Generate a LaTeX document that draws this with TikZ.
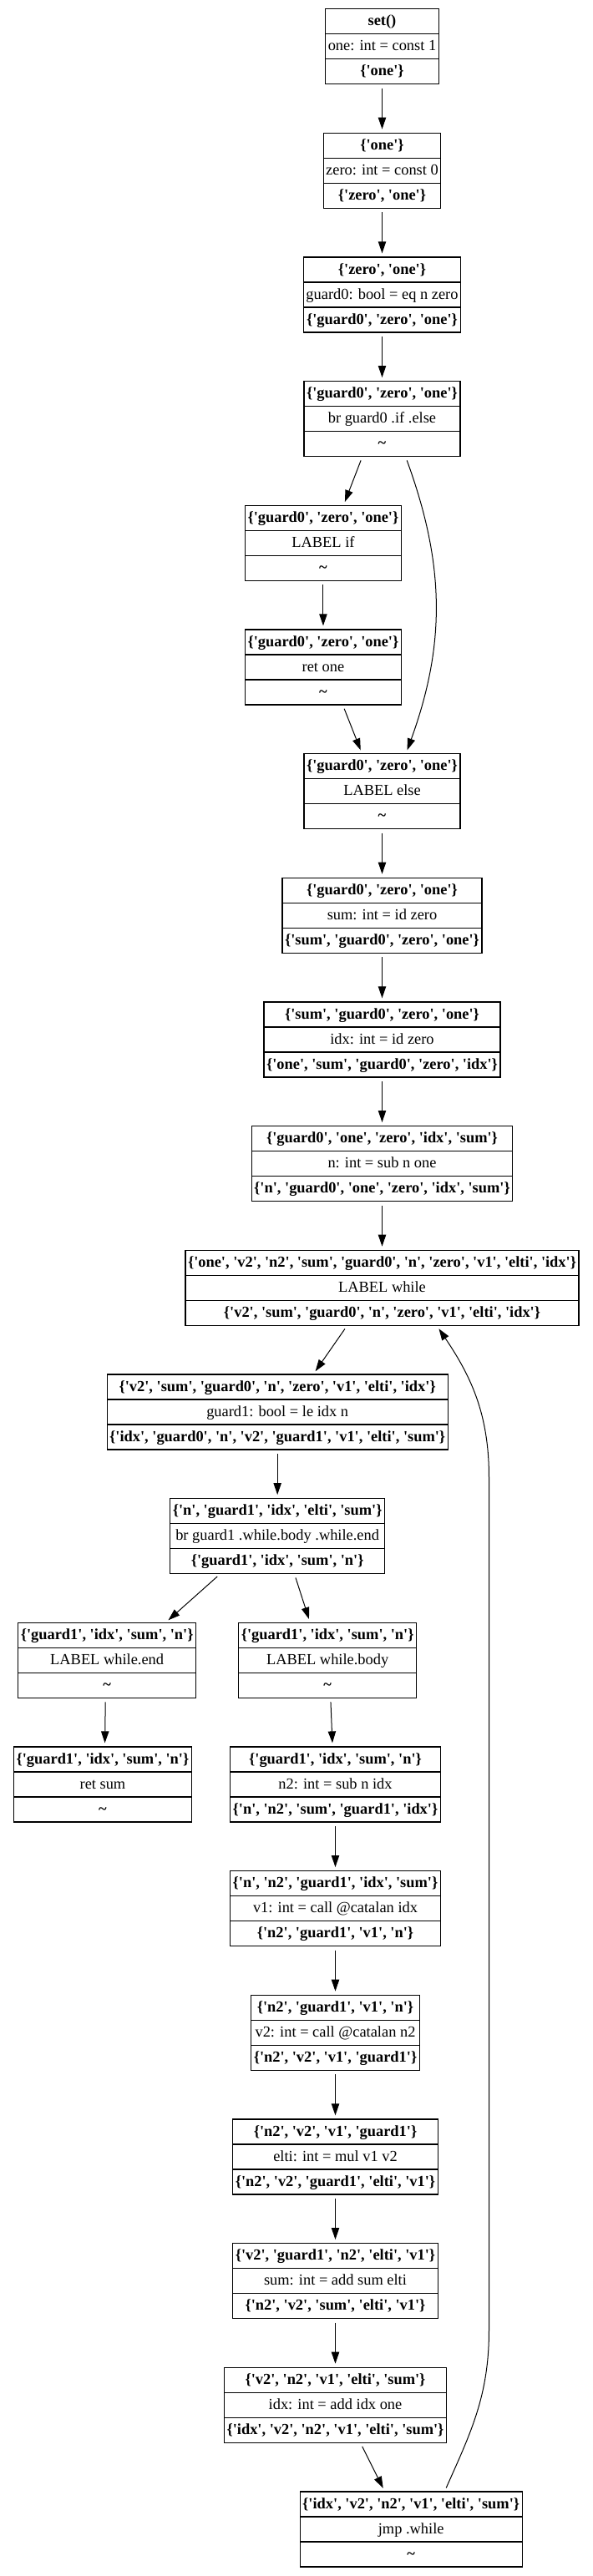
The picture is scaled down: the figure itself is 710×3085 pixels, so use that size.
\documentclass[tikz,border=0pt]{standalone}
\usepackage{fontspec}
\newfontfamily\gvfont{Liberation Serif}
\usetikzlibrary{arrows.meta,positioning,shapes.multipart}
\newcommand{\rowstrut}{\rule[-6.9pt]{0pt}{21.6pt}}
\newcommand{\blok}[3]{\rowstrut\textbf{#1}\nodepart{two}\rowstrut#2\nodepart{three}\rowstrut\textbf{#3}}
\tikzset{
    %Define standard arrow tip
    >={Triangle[length=10.5pt,width=7pt]},
    %Define style for blocks
    blok/.style={
           rectangle split,
           rectangle split parts=3,
           draw=black, line width=0.9pt,
           inner xsep=2.3pt,
           inner ysep=0pt,
           outer sep=0pt,
           font=\gvfont\fontsize{13.8pt}{16pt}\selectfont},
    % Define arrow style
    pil/.style={
           ->,
           line width=0.75pt,
           shorten <=3.75pt,
           shorten >=3.5pt,}
}
\begin{document}
\begin{tikzpicture}[x=0.75pt, y=0.75pt]
\useasboundingbox (0,0) rectangle (710,-3085);
\node[blok, anchor=north] (setb) at (457.5,-10.7) {\blok{set()}{one: int = const 1}{\{'one'\}}};
\node[blok, below=44pt of setb] (oneb) {\blok{\{'one'\}}{zero: int = const 0}{\{'zero', 'one'\}}};
\node[blok, below=44pt of oneb] (zerob) {\blok{\{'zero', 'one'\}}{guard0: bool = eq n zero}{\{'guard0', 'zero', 'one'\}}};
\node[blok, below=44pt of zerob] (brzero) {\blok{\{'guard0', 'zero', 'one'\}}{br guard0 .if .else}{\textasciitilde}};
\node[blok, below=44pt of brzero, xshift=-52.9pt] (ifb) {\blok{\{'guard0', 'zero', 'one'\}}{LABEL if}{\textasciitilde}};
\node[blok, below=44pt of ifb] (retone) {\blok{\{'guard0', 'zero', 'one'\}}{ret one}{\textasciitilde}};
\node[blok, below=44pt of retone, xshift=52.9pt] (elseb) {\blok{\{'guard0', 'zero', 'one'\}}{LABEL else}{\textasciitilde}};
\node[blok, below=44pt of elseb] (sumb) {\blok{\{'guard0', 'zero', 'one'\}}{sum: int = id zero}{\{'sum', 'guard0', 'zero', 'one'\}}};
\node[blok, below=44pt of sumb] (idxb) {\blok{\{'sum', 'guard0', 'zero', 'one'\}}{idx: int = id zero}{\{'one', 'sum', 'guard0', 'zero', 'idx'\}}};
\node[blok, below=44pt of idxb] (nb) {\blok{\{'guard0', 'one', 'zero', 'idx', 'sum'\}}{n: int = sub n one}{\{'n', 'guard0', 'one', 'zero', 'idx', 'sum'\}}};
\node[blok, below=44pt of nb] (whileb) {\blok{\{'one', 'v2', 'n2', 'sum', 'guard0', 'n', 'zero', 'v1', 'elti', 'idx'\}}{LABEL while}{\{'v2', 'sum', 'guard0', 'n', 'zero', 'v1', 'elti', 'idx'\}}};
\node[blok, below=44pt of whileb, xshift=-94pt] (guardb) {\blok{\{'v2', 'sum', 'guard0', 'n', 'zero', 'v1', 'elti', 'idx'\}}{guard1: bool = le idx n}{\{'idx', 'guard0', 'n', 'v2', 'guard1', 'v1', 'elti', 'sum'\}}};
\node[blok, below=44pt of guardb] (brwhile) {\blok{\{'n', 'guard1', 'idx', 'elti', 'sum'\}}{br guard1 .while.body .while.end}{\{'guard1', 'idx', 'sum', 'n'\}}};
\node[blok, below=44pt of brwhile, xshift=-153pt] (endb) {\blok{\{'guard1', 'idx', 'sum', 'n'\}}{LABEL while.end}{\textasciitilde}};
\node[blok, below=44pt of brwhile, xshift=45pt] (bodyb) {\blok{\{'guard1', 'idx', 'sum', 'n'\}}{LABEL while.body}{\textasciitilde}};
\node[blok, below=44pt of endb, xshift=-3.9pt] (retsum) {\blok{\{'guard1', 'idx', 'sum', 'n'\}}{ret sum}{\textasciitilde}};
\node[blok, below=44pt of bodyb, xshift=7pt] (n2b) {\blok{\{'guard1', 'idx', 'sum', 'n'\}}{n2: int = sub n idx}{\{'n', 'n2', 'sum', 'guard1', 'idx'\}}};
\node[blok, below=44pt of n2b] (v1b) {\blok{\{'n', 'n2', 'guard1', 'idx', 'sum'\}}{v1: int = call @catalan idx}{\{'n2', 'guard1', 'v1', 'n'\}}};
\node[blok, below=44pt of v1b] (v2b) {\blok{\{'n2', 'guard1', 'v1', 'n'\}}{v2: int = call @catalan n2}{\{'n2', 'v2', 'v1', 'guard1'\}}};
\node[blok, below=44pt of v2b] (eltib) {\blok{\{'n2', 'v2', 'v1', 'guard1'\}}{elti: int = mul v1 v2}{\{'n2', 'v2', 'guard1', 'elti', 'v1'\}}};
\node[blok, below=44pt of eltib] (addsum) {\blok{\{'v2', 'guard1', 'n2', 'elti', 'v1'\}}{sum: int = add sum elti}{\{'n2', 'v2', 'sum', 'elti', 'v1'\}}};
\node[blok, below=44pt of addsum] (addidx) {\blok{\{'v2', 'n2', 'v1', 'elti', 'sum'\}}{idx: int = add idx one}{\{'idx', 'v2', 'n2', 'v1', 'elti', 'sum'\}}};
\node[blok, below=44pt of addidx, xshift=68pt] (jmpb) {\blok{\{'idx', 'v2', 'n2', 'v1', 'elti', 'sum'\}}{jmp .while}{\textasciitilde}};

\coordinate (loopbot) at (585.5,-2790);
\coordinate (looptop) at (585.5,-1770);

\draw[pil] (setb.south) -- (oneb.north);
\draw[pil] (oneb.south) -- (zerob.north);
\draw[pil] (zerob.south) -- (brzero.north);
\draw[pil] ([xshift=-17.7pt]brzero.south) -- ([xshift=18.2pt]ifb.north);
\draw[pil] ([xshift=21pt]brzero.south) to[bend left=20] ([xshift=21.4pt]elseb.north);
\draw[pil] (ifb.south) -- (retone.north);
\draw[pil] ([xshift=17.5pt]retone.south) -- ([xshift=-18pt]elseb.north);
\draw[pil] (elseb.south) -- (sumb.north);
\draw[pil] (sumb.south) -- (idxb.north);
\draw[pil] (idxb.south) -- (nb.north);
\draw[pil] (nb.south) -- (whileb.north);
\draw[pil] ([xshift=-31.3pt]whileb.south) -- ([xshift=32.1pt]guardb.north);
\draw[pil] (guardb.south) -- (brwhile.north);
\draw[pil] ([xshift=-51.2pt]brwhile.south) -- ([xshift=52.4pt]endb.north);
\draw[pil] ([xshift=15.2pt]brwhile.south) -- ([xshift=-15.6pt]bodyb.north);
\draw[pil] ([xshift=-1.4pt]endb.south) -- ([xshift=1.9pt]retsum.north);
\draw[pil] ([xshift=2.7pt]bodyb.south) -- ([xshift=-2.5pt]n2b.north);
\draw[pil] (n2b.south) -- (v1b.north);
\draw[pil] (v1b.south) -- (v2b.north);
\draw[pil] (v2b.south) -- (eltib.north);
\draw[pil] (eltib.south) -- (addsum.north);
\draw[pil] (addsum.south) -- (addidx.north);
\draw[pil] ([xshift=22.5pt]addidx.south) -- ([xshift=-23.5pt]jmpb.north);
\draw[pil] ([xshift=30pt]jmpb.north) to[out=66,in=-90] (loopbot) -- (looptop) to[out=90,in=-56] ([xshift=49pt]whileb.south);
\end{tikzpicture}
\end{document}
